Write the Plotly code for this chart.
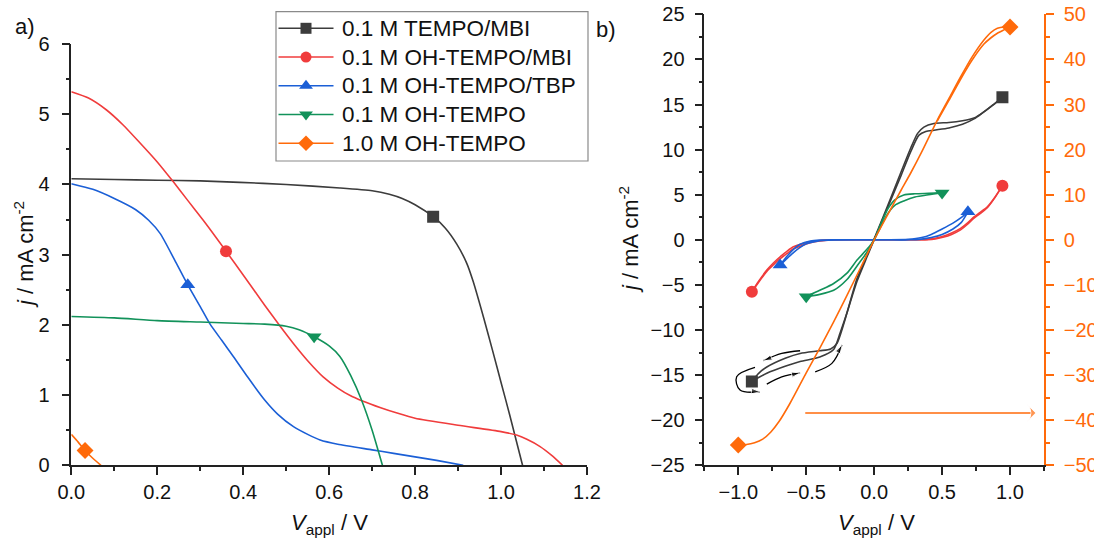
import plotly.graph_objects as go

W, H = 1094, 539

# ---------------- Panel a data (J-V curves) ----------------
a_v_tempo_mbi = [0, 0.1, 0.2, 0.3, 0.392, 0.5, 0.625, 0.7, 0.74, 0.77, 0.8, 0.842, 0.87, 0.897, 0.92, 0.935, 0.96, 0.98, 1.0, 1.02, 1.05]
a_j_tempo_mbi = [4.08, 4.07, 4.06, 4.05, 4.03, 4.0, 3.95, 3.91, 3.86, 3.8, 3.71, 3.54, 3.38, 3.15, 2.88, 2.62, 2.09, 1.64, 1.18, 0.72, 0.0]

a_v_oh_mbi = [0, 0.04, 0.082, 0.12, 0.16, 0.2, 0.237, 0.27, 0.307, 0.33, 0.36, 0.4, 0.45, 0.486, 0.52, 0.55, 0.586, 0.62, 0.65, 0.676, 0.72, 0.76, 0.8, 0.9, 1.0, 1.036, 1.06, 1.09, 1.12, 1.143]
a_j_oh_mbi = [5.32, 5.23, 5.06, 4.85, 4.59, 4.32, 4.04, 3.78, 3.49, 3.3, 3.05, 2.71, 2.28, 1.98, 1.71, 1.49, 1.26, 1.1, 0.99, 0.92, 0.82, 0.74, 0.67, 0.57, 0.48, 0.43, 0.37, 0.27, 0.13, 0.0]

a_v_oh_tbp = [0, 0.05, 0.1, 0.15, 0.18, 0.207, 0.24, 0.271, 0.3, 0.323, 0.35, 0.377, 0.41, 0.45, 0.48, 0.517, 0.55, 0.579, 0.62, 0.7, 0.75, 0.8, 0.85, 0.912]
a_j_oh_tbp = [4.01, 3.93, 3.8, 3.64, 3.49, 3.3, 2.93, 2.57, 2.26, 2.01, 1.78, 1.55, 1.26, 0.93, 0.73, 0.55, 0.44, 0.36, 0.3, 0.22, 0.17, 0.12, 0.07, 0.0]

a_v_oh = [0, 0.1, 0.2, 0.3, 0.4, 0.45, 0.5, 0.53, 0.565, 0.6, 0.625, 0.65, 0.676, 0.7, 0.724]
a_j_oh = [2.12, 2.1, 2.06, 2.04, 2.02, 2.01, 1.98, 1.93, 1.83, 1.7, 1.55, 1.28, 0.92, 0.5, 0.0]

a_v_oh_1m = [0, 0.016, 0.032, 0.05, 0.069]
a_j_oh_1m = [0.44, 0.33, 0.21, 0.1, 0.0]

# single symbol position on each panel-a curve
a_mark_v = [0.842, 0.36, 0.271, 0.565, 0.032]
a_mark_j = [3.54, 3.05, 2.57, 1.83, 0.21]

# ---------------- Panel b data (CV loops) ----------------
b_v_tempo_mbi_fwd = [-0.9, -0.79, -0.65, -0.545, -0.4, -0.3, -0.25, -0.2, -0.126, -0.05, 0, 0.1, 0.2, 0.27, 0.33, 0.38, 0.44, 0.55, 0.65, 0.735, 0.8, 0.87, 0.944]
b_j_tempo_mbi_fwd = [-15.7, -14.8, -14.0, -13.5, -13.0, -12.2, -10.3, -8.1, -4.6, -1.8, 0, 3.6, 7.2, 9.8, 11.6, 12.0, 12.15, 12.4, 12.8, 13.4, 14.1, 14.9, 15.8]
b_v_tempo_mbi_bwd = [0.944, 0.87, 0.8, 0.735, 0.65, 0.55, 0.44, 0.366, 0.32, 0.27, 0.2, 0.1, 0, -0.05, -0.126, -0.225, -0.274, -0.32, -0.4, -0.545, -0.65, -0.79, -0.85, -0.9]
b_j_tempo_mbi_bwd = [15.8, 14.9, 14.1, 13.5, 13.2, 13.0, 12.9, 12.5, 11.8, 10.2, 7.6, 3.8, 0.1, -1.6, -4.3, -9.4, -11.5, -12.1, -12.3, -12.6, -13.1, -14.1, -14.8, -15.7]

b_v_oh_mbi_fwd = [-0.9, -0.85, -0.79, -0.74, -0.692, -0.64, -0.594, -0.53, -0.47, -0.4, -0.3, -0.2, 0, 0.2, 0.3, 0.39, 0.45, 0.513, 0.57, 0.636, 0.69, 0.735, 0.78, 0.833, 0.89, 0.944]
b_j_oh_mbi_fwd = [-5.76, -4.6, -3.36, -2.55, -1.88, -1.25, -0.78, -0.45, -0.22, -0.08, -0.01, 0, 0, 0, 0, 0.05, 0.17, 0.41, 0.75, 1.26, 1.9, 2.55, 3.05, 3.66, 4.75, 6.0]
b_v_oh_mbi_bwd = [0.944, 0.89, 0.833, 0.78, 0.735, 0.69, 0.636, 0.57, 0.513, 0.45, 0.39, 0.3, 0.2, 0, -0.2, -0.3, -0.4, -0.47, -0.53, -0.594, -0.64, -0.692, -0.74, -0.79, -0.85, -0.9]
b_j_oh_mbi_bwd = [6.0, 4.7, 3.55, 2.9, 2.4, 1.75, 1.1, 0.6, 0.3, 0.1, 0.02, 0, 0, 0, 0, 0, -0.12, -0.32, -0.62, -1.0, -1.5, -2.1, -2.75, -3.5, -4.7, -5.76]

b_v_oh_tbp_fwd = [-0.692, -0.65, -0.6, -0.55, -0.5, -0.42, -0.3, -0.1, 0, 0.1, 0.25, 0.35, 0.42, 0.5, 0.58, 0.64, 0.69]
b_j_oh_tbp_fwd = [-2.8, -2.2, -1.5, -0.9, -0.45, -0.15, -0.02, 0, 0, 0, 0.0, 0.08, 0.25, 0.6, 1.2, 1.9, 3.1]
b_v_oh_tbp_bwd = [0.69, 0.64, 0.58, 0.5, 0.42, 0.35, 0.25, 0.1, 0, -0.1, -0.3, -0.4, -0.47, -0.545, -0.59, -0.64, -0.692]
b_j_oh_tbp_bwd = [3.1, 2.45, 1.85, 1.2, 0.6, 0.25, 0.05, 0, 0, 0, 0, -0.04, -0.15, -0.5, -1.0, -1.8, -2.8]

b_v_oh_fwd = [-0.5, -0.4, -0.298, -0.2, -0.126, -0.05, 0, 0.05, 0.1, 0.15, 0.218, 0.3, 0.4, 0.5]
b_j_oh_fwd = [-6.3, -6.05, -5.6, -4.4, -2.9, -1.3, 0, 1.5, 2.9, 3.8, 4.3, 4.75, 5.0, 5.2]
b_v_oh_bwd = [0.5, 0.4, 0.3, 0.218, 0.15, 0.1, 0.05, 0, -0.05, -0.126, -0.2, -0.298, -0.4, -0.5]
b_j_oh_bwd = [5.2, 5.15, 5.1, 4.96, 4.4, 3.4, 1.8, 0, -1.0, -2.25, -3.7, -4.84, -5.6, -6.3]

# 1.0 M OH-TEMPO: right-hand axis
b_v_oh_1m_fwd = [-1.0, -0.94, -0.88, -0.82, -0.76, -0.7, -0.62, -0.5, -0.4, -0.3, -0.2, -0.1, 0, 0.1, 0.2, 0.267, 0.35, 0.464, 0.55, 0.636, 0.72, 0.808, 0.86, 0.907, 0.96, 1.0]
b_j_oh_1m_fwd = [-45.5, -45.4, -45.0, -44.2, -42.6, -40.3, -36.3, -29.5, -24.0, -18.3, -12.3, -6.2, 0, 5.6, 11.1, 14.7, 19.5, 26.5, 31.3, 36.1, 40.5, 44.3, 46.0, 46.9, 47.2, 47.2]
b_v_oh_1m_bwd = [1.0, 0.96, 0.907, 0.86, 0.808, 0.72, 0.636, 0.55, 0.464]
b_j_oh_1m_bwd = [47.2, 46.6, 45.8, 44.8, 43.4, 39.8, 35.6, 30.9, 26.3]

# sweep-direction arrows (panel b, left axis units)
arrow_paths_v = [[-0.545, -0.68, -0.815], [-0.79, -0.68, -0.545], [-0.434, -0.311, -0.237], [-0.877, -1.012, -0.987, -0.84]]
arrow_paths_j = [[-12.3, -12.6, -13.4], [-16.0, -15.2, -14.75], [-14.63, -13.7, -11.67], [-14.15, -15.19, -16.66, -16.85]]
axis_arrow_v = [-0.507, 1.19]
axis_arrow_j = [-19.2, -19.2]

names = ["0.1 M TEMPO/MBI", "0.1 M OH-TEMPO/MBI", "0.1 M OH-TEMPO/TBP", "0.1 M OH-TEMPO", "1.0 M OH-TEMPO"]
colors = ["#3c3c3c", "#f03c3c", "#1b5fd6", "#12925a", "#ff6a0a"]
symbols = ["square", "circle", "triangle-up", "triangle-down", "diamond"]
msizes = [12, 12, 13, 13, 13]

FONT = "Liberation Sans, Arial, sans-serif"
fig = go.Figure()

a_curves = [(a_v_tempo_mbi, a_j_tempo_mbi), (a_v_oh_mbi, a_j_oh_mbi), (a_v_oh_tbp, a_j_oh_tbp),
            (a_v_oh, a_j_oh), (a_v_oh_1m, a_j_oh_1m)]
for i, (v, j) in enumerate(a_curves):
    fig.add_trace(go.Scatter(x=v, y=j, mode="lines", line=dict(color=colors[i], width=1.6, shape="spline", smoothing=0.6),
                             name=names[i], legendgroup=names[i], showlegend=False, hoverinfo="skip", xaxis="x", yaxis="y"))
    fig.add_trace(go.Scatter(x=[a_mark_v[i]], y=[a_mark_j[i]], mode="markers", name=names[i], legendgroup=names[i],
                             marker=dict(symbol=symbols[i], size=msizes[i], color=colors[i]),
                             showlegend=False, xaxis="x", yaxis="y"))

b_loops = [
    (b_v_tempo_mbi_fwd, b_j_tempo_mbi_fwd, b_v_tempo_mbi_bwd, b_j_tempo_mbi_bwd, "y2"),
    (b_v_oh_mbi_fwd, b_j_oh_mbi_fwd, b_v_oh_mbi_bwd, b_j_oh_mbi_bwd, "y2"),
    (b_v_oh_tbp_fwd, b_j_oh_tbp_fwd, b_v_oh_tbp_bwd, b_j_oh_tbp_bwd, "y2"),
    (b_v_oh_fwd, b_j_oh_fwd, b_v_oh_bwd, b_j_oh_bwd, "y2"),
    (b_v_oh_1m_fwd, b_j_oh_1m_fwd, b_v_oh_1m_bwd, b_j_oh_1m_bwd, "y3"),
]
for i, (vf, jf, vb, jb, ya) in enumerate(b_loops):
    for v, j in ((vf, jf), (vb, jb)):
        fig.add_trace(go.Scatter(x=v, y=j, mode="lines", line=dict(color=colors[i], width=1.6, shape="spline", smoothing=0.7),
                                 showlegend=False, hoverinfo="skip", xaxis="x2", yaxis=ya))
    fig.add_trace(go.Scatter(x=[vf[0], vf[-1]], y=[jf[0], jf[-1]], mode="markers",
                             marker=dict(symbol=symbols[i], size=msizes[i], color=colors[i]),
                             showlegend=False, xaxis="x2", yaxis=ya))

for v, j in zip(arrow_paths_v, arrow_paths_j):
    n = len(v)
    fig.add_trace(go.Scatter(x=v, y=j, mode="lines+markers", line=dict(color="black", width=1.3, shape="spline"),
                             marker=dict(symbol=["circle"] * (n - 1) + ["arrow"], size=[0] * (n - 1) + [9],
                                         color="black", angleref="previous"),
                             showlegend=False, hoverinfo="skip", xaxis="x2", yaxis="y2"))
fig.add_trace(go.Scatter(x=axis_arrow_v, y=axis_arrow_j, mode="lines+markers", line=dict(color=colors[4], width=1.6),
                         marker=dict(symbol=["circle", "arrow-wide"], size=[0, 12], color=colors[4], angleref="previous"),
                         showlegend=False, hoverinfo="skip", xaxis="x2", yaxis="y2"))

# ---------------- legend (drawn on a pixel-space helper axis) ----------------
LEG_BOX = (276, 11.7, 588, 161)          # left, top, right, bottom in px
LEG_ROW0, LEG_DY = 28.3, 28.75
LEG_LINE_X = (278.5, 333.5)
LEG_TEXT_X = 340
for i in range(5):
    yrow = LEG_ROW0 + i * LEG_DY
    fig.add_trace(go.Scatter(x=list(LEG_LINE_X), y=[yrow, yrow], mode="lines", line=dict(color=colors[i], width=1.6),
                             showlegend=False, hoverinfo="skip", xaxis="x3", yaxis="y4"))
    fig.add_trace(go.Scatter(x=[(LEG_LINE_X[0] + LEG_LINE_X[1]) / 2], y=[yrow], mode="markers",
                             marker=dict(symbol=symbols[i], size=msizes[i] - 1, color=colors[i]),
                             showlegend=False, hoverinfo="skip", xaxis="x3", yaxis="y4"))
    fig.add_annotation(xref="x3", yref="y4", x=LEG_TEXT_X, y=yrow, text=names[i], showarrow=False,
                       xanchor="left", yanchor="middle", font=dict(family=FONT, size=22.5, color="#111"))
fig.add_shape(type="rect", xref="x3", yref="y4", x0=LEG_BOX[0], y0=LEG_BOX[1], x1=LEG_BOX[2], y1=LEG_BOX[3],
              line=dict(color="#8a8a8a", width=1.2), fillcolor="white", layer="below")

def px(x):
    return x / W

def py(y):
    return 1 - y / H

tickfont = dict(family=FONT, size=20, color="#111")
common = dict(showgrid=False, zeroline=False, showline=True, linecolor="#222", linewidth=1.5, automargin=False,
              ticks="outside", ticklen=8, tickwidth=1.5, tickcolor="#222", tickfont=tickfont)

fig.update_layout(
    width=W, height=H, margin=dict(l=0, r=0, t=0, b=0, pad=0, autoexpand=False),
    plot_bgcolor="rgba(0,0,0,0)", paper_bgcolor="white", showlegend=False,
    font=dict(family=FONT, size=20, color="#111"),
    xaxis=dict(domain=[px(71.3), px(587)], range=[0, 1.2], dtick=0.2, tickformat=".1f", anchor="y",
               minor=dict(dtick=0.1, ticklen=4, tickwidth=1.5, tickcolor="#222", ticks="outside", showgrid=False), **common),
    yaxis=dict(domain=[py(465.3), py(44)], range=[0, 6], dtick=1, anchor="x", ticklabelstandoff=8,
               minor=dict(dtick=0.5, ticklen=4, tickwidth=1.5, tickcolor="#222", ticks="outside", showgrid=False), **common),
    xaxis2=dict(domain=[px(704.3), px(1044)], range=[-1.25, 1.25], dtick=0.5, tick0=0, tickformat=".1f", anchor="y2",
                minor=dict(dtick=0.25, ticklen=4, tickwidth=1.5, tickcolor="#222", ticks="outside", showgrid=False), **common),
    yaxis2=dict(domain=[py(465.3), py(14.3)], range=[-25, 25], dtick=5, anchor="x2", ticklabelstandoff=6,
                minor=dict(dtick=2.5, ticklen=4, tickwidth=1.5, tickcolor="#222", ticks="outside", showgrid=False), **common),
    yaxis3=dict(overlaying="y2", side="right", anchor="x2", range=[-50, 50], dtick=10, showgrid=False, zeroline=False,
                showline=True, linecolor=colors[4], linewidth=1.5, ticks="outside", ticklen=8, tickwidth=1.5, automargin=False,
                tickcolor=colors[4], tickfont=dict(family=FONT, size=20, color=colors[4]), ticklabelstandoff=6,
                minor=dict(dtick=5, ticklen=4, tickwidth=1.5, tickcolor=colors[4], ticks="outside", showgrid=False)),
    xaxis3=dict(domain=[0, 1], range=[0, W], visible=False, anchor="y4", fixedrange=True),
    yaxis4=dict(domain=[0, 1], range=[H, 0], visible=False, anchor="x3", fixedrange=True),
)

ann_font = dict(family=FONT, size=22, color="#111")
annots = [
    dict(text="a)", x=px(25), y=py(27)),
    dict(text="b)", x=px(606), y=py(29)),
    dict(text="<i>j</i> / mA cm<sup>-2</sup>", x=px(24), y=py(255), textangle=-90),
    dict(text="<i>j</i> / mA cm<sup>-2</sup>", x=px(629), y=py(240), textangle=-90),
    dict(text="<i>V</i><sub>appl</sub> / V", x=px(329), y=py(524)),
    dict(text="<i>V</i><sub>appl</sub> / V", x=px(876), y=py(524)),
]
for a in annots:
    fig.add_annotation(xref="paper", yref="paper", showarrow=False, font=ann_font,
                       xanchor="center", yanchor="middle", **a)

fig.write_html("out.html", config={"displayModeBar": False},
               post_script="document.body.style.margin='0px';document.body.style.overflow='hidden';")
